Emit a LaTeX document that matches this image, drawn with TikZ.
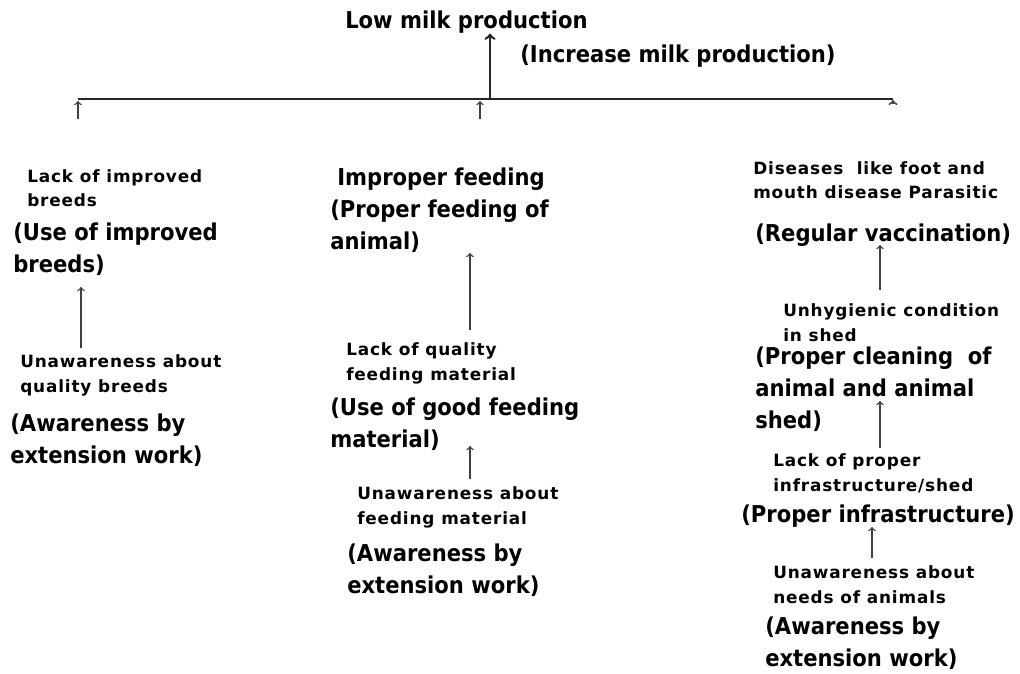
\documentclass[tikz,border=0pt]{standalone}
\usepackage{fontspec}
\setmainfont{DejaVu Sans}[FakeStretch=0.91]
\newfontfamily\spacedfont[LetterSpace=5]{DejaVu Sans}
\usetikzlibrary{arrows}

\begin{document}
\begin{tikzpicture}[x=0.025cm, y=-0.025cm,
  cause/.style = {anchor=north west, inner sep=0pt, align=left, font=\spacedfont\bfseries\fontsize{12}{17.7}\selectfont},
  remedy/.style = {anchor=north west, inner sep=0pt, align=left, font=\bfseries\fontsize{16.5}{22.7}\selectfont},
  arr/.style = {-to, line width=1pt, black!75}]
  \useasboundingbox (0,0) rectangle (1020,673);

  % top problem
  \node[remedy, anchor=west] (low) at (345,22) {Low milk production};
  \node[remedy, anchor=west] (increase) at (520,56) {(Increase milk production)};

  % left column
  \node[cause] (breed) at (27,169) {Lack of improved\\breeds};
  \node[remedy] (breedfix) at (13,223) {(Use of improved\\breeds)};
  \node[cause] (aware1) at (20,354) {Unawareness about\\quality breeds};
  \node[remedy] (aware1fix) at (10,414) {(Awareness by\\extension work)};

  % middle column
  \node[remedy] (feed) at (337,168) {Improper feeding};
  \node[remedy] (feedfix) at (330,200) {(Proper feeding of\\animal)};
  \node[cause] (quality) at (346,342) {Lack of quality\\feeding material};
  \node[remedy] (qualityfix) at (330,398) {(Use of good feeding\\material)};
  \node[cause] (aware2) at (357,486) {Unawareness about\\feeding material};
  \node[remedy] (aware2fix) at (347,544) {(Awareness by\\extension work)};

  % right column
  \node[cause] (disease) at (753,161) {Diseases\ \ like foot and\\mouth disease Parasitic};
  \node[remedy] (diseasefix) at (755,224) {(Regular vaccination)};
  \node[cause] (hygiene) at (783,303) {Unhygienic condition\\in shed};
  \node[remedy] (hygienefix) at (755,347) {(Proper cleaning\ \ of\\animal and animal\\shed)};
  \node[cause] (infra) at (773,453) {Lack of proper\\infrastructure/shed};
  \node[remedy] (infrafix) at (741,505) {(Proper infrastructure)};
  \node[cause] (aware3) at (773,565) {Unawareness about\\needs of animals};
  \node[remedy] (aware3fix) at (765,617) {(Awareness by\\extension work)};

  % bar and ends of arrows
  \coordinate (barl) at (78,99);
  \coordinate (barm) at (490,99);
  \coordinate (barr) at (893,99);
  \coordinate (s1) at (78,119);
  \coordinate (e1) at (78,101);
  \coordinate (s2) at (480,119);
  \coordinate (e2) at (480,101);
  \coordinate (s3) at (893,104);
  \coordinate (e3) at (893,100);
  \coordinate (a1) at (81,348);
  \coordinate (b1) at (81,287);
  \coordinate (a2) at (470,330);
  \coordinate (b2) at (470,253);
  \coordinate (a3) at (470,479);
  \coordinate (b3) at (470,446);
  \coordinate (a4) at (880,290);
  \coordinate (b4) at (880,245);
  \coordinate (a5) at (880,448);
  \coordinate (b5) at (880,401);
  \coordinate (a6) at (872,558);
  \coordinate (b6) at (872,527);

  \draw [line width=1.3pt, black!85] (barl) -- (barr);
  \draw [-to, line width=1.8pt, black!85] (barm) -- (low.south -| barm);

  \draw [arr] (s1) -- (e1);
  \draw [arr] (s2) -- (e2);
  \draw [arr, line width=1.3pt] (s3) -- (e3);
  \draw [arr] (a1) -- (b1);
  \draw [arr] (a2) -- (b2);
  \draw [arr] (a3) -- (b3);
  \draw [arr] (a4) -- (b4);
  \draw [arr] (a5) -- (b5);
  \draw [arr] (a6) -- (b6);
\end{tikzpicture}
\end{document}
